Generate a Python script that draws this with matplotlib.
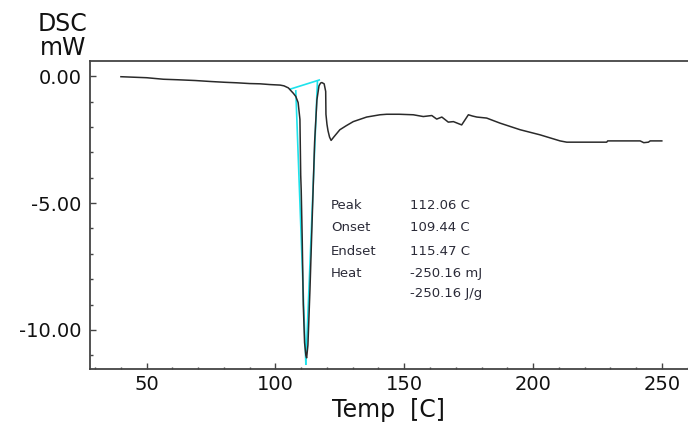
import matplotlib
matplotlib.use("Agg")
import matplotlib.pyplot as plt
from matplotlib.ticker import MultipleLocator, FormatStrFormatter

# DSC trace, temperature in C and heat flow in mW
temp = [40, 45, 50, 56.5, 62, 68.8, 75, 80.4, 85, 90, 94, 97.9, 101.8, 103.3,
        105.0, 105.9, 107.0, 107.9, 108.8, 109.5, 109.8, 110.0, 110.4, 110.8,
        111.3, 111.8, 112.1, 112.6, 113.4, 114.3, 115.2, 116.1, 116.9, 117.5,
        118.0, 118.9, 119.5, 119.6, 120.0, 120.4, 121.0, 121.6, 122.7, 125,
        127.5, 130.2, 135.4, 140.6, 143.2, 148, 153.5, 157.4, 160.7, 162.6,
        164.6, 167.1, 169.1, 172.3, 173.6, 174.9, 176.5, 178.2, 182, 187.2,
        195, 202.7, 210.5, 213.1, 228.6, 229.0, 241.6, 243.0, 244.8, 245.5, 250]
heat = [-0.02, -0.04, -0.06, -0.12, -0.14, -0.17, -0.21, -0.24, -0.26, -0.29,
        -0.30, -0.33, -0.35, -0.38, -0.46, -0.56, -0.68, -0.80, -1.04, -1.7,
        -3.9, -4.5, -6.5, -9.0, -10.5, -11.0, -11.1, -10.6, -8.4, -5.5, -2.6,
        -0.93, -0.38, -0.27, -0.25, -0.30, -0.6, -1.5, -1.9, -2.15, -2.4,
        -2.53, -2.39, -2.11, -1.95, -1.79, -1.61, -1.52, -1.50, -1.50, -1.52,
        -1.59, -1.55, -1.69, -1.61, -1.81, -1.79, -1.92, -1.72, -1.52, -1.57,
        -1.61, -1.65, -1.85, -2.11, -2.31, -2.55, -2.60, -2.60, -2.55, -2.55,
        -2.62, -2.60, -2.55, -2.55]

# peak analysis construction lines
base_t = [105.7, 117.0]
base_h = [-0.51, -0.15]
left_t = [107.9, 111.8]
left_h = [-0.58, -11.35]
right_t = [116.3, 111.8]
right_h = [-0.19, -11.35]

labels = ["Peak", "Onset", "Endset", "Heat", ""]
values = ["112.06 C", "109.44 C", "115.47 C", "-250.16 mJ", "-250.16 J/g"]
rows = [-5.1, -5.98, -6.9, -7.78, -8.55]

plt.rcParams["font.family"] = "DejaVu Sans"

fig = plt.figure(figsize=(6.88, 4.22), dpi=100)
ax = fig.add_axes([0.1301, 0.1256, 0.870, 0.7299])

cyan = "#1ee3ec"
ax.plot(base_t, base_h, color=cyan, lw=1.2, zorder=2)
ax.plot(left_t, left_h, color=cyan, lw=1.2, zorder=2)
ax.plot(right_t, right_h, color=cyan, lw=1.2, zorder=2)
ax.plot(temp, heat, color="#2a2a2a", lw=1.1, zorder=3)

for lab, val, y in zip(labels, values, rows):
    ax.text(121.6, y, lab, fontsize=9.5, color="#2b2b38", va="center", ha="left")
    ax.text(152.3, y, val, fontsize=9.5, color="#2b2b38", va="center", ha="left")

ax.set_xlim(27.8, 260.2)
ax.set_ylim(-11.54, 0.6)

ax.xaxis.set_major_locator(MultipleLocator(50))
ax.xaxis.set_minor_locator(MultipleLocator(10))
ax.yaxis.set_major_locator(MultipleLocator(5))
ax.yaxis.set_minor_locator(MultipleLocator(1))
ax.yaxis.set_major_formatter(FormatStrFormatter("%.2f"))

ax.tick_params(which="both", direction="in", color="#444444", width=1.0,
               labelsize=14, labelcolor="#111111")
ax.tick_params(which="major", length=4)
ax.tick_params(which="minor", length=1.8)
ax.tick_params(axis="y", pad=5.5)
ax.tick_params(axis="x", pad=4.5)

for side in ["left", "bottom", "top"]:
    ax.spines[side].set_color("#444444")
    ax.spines[side].set_linewidth(1.3)
ax.spines["right"].set_visible(False)

ax.set_xlabel("Temp  [C]", fontsize=17, color="#111111", labelpad=3)
fig.text(63 / 688, 1 - 36 / 422, "DSC\nmW", fontsize=17, color="#111111",
         ha="center", va="center", multialignment="center", linespacing=1.05)

fig.savefig("out.png", dpi=100)
